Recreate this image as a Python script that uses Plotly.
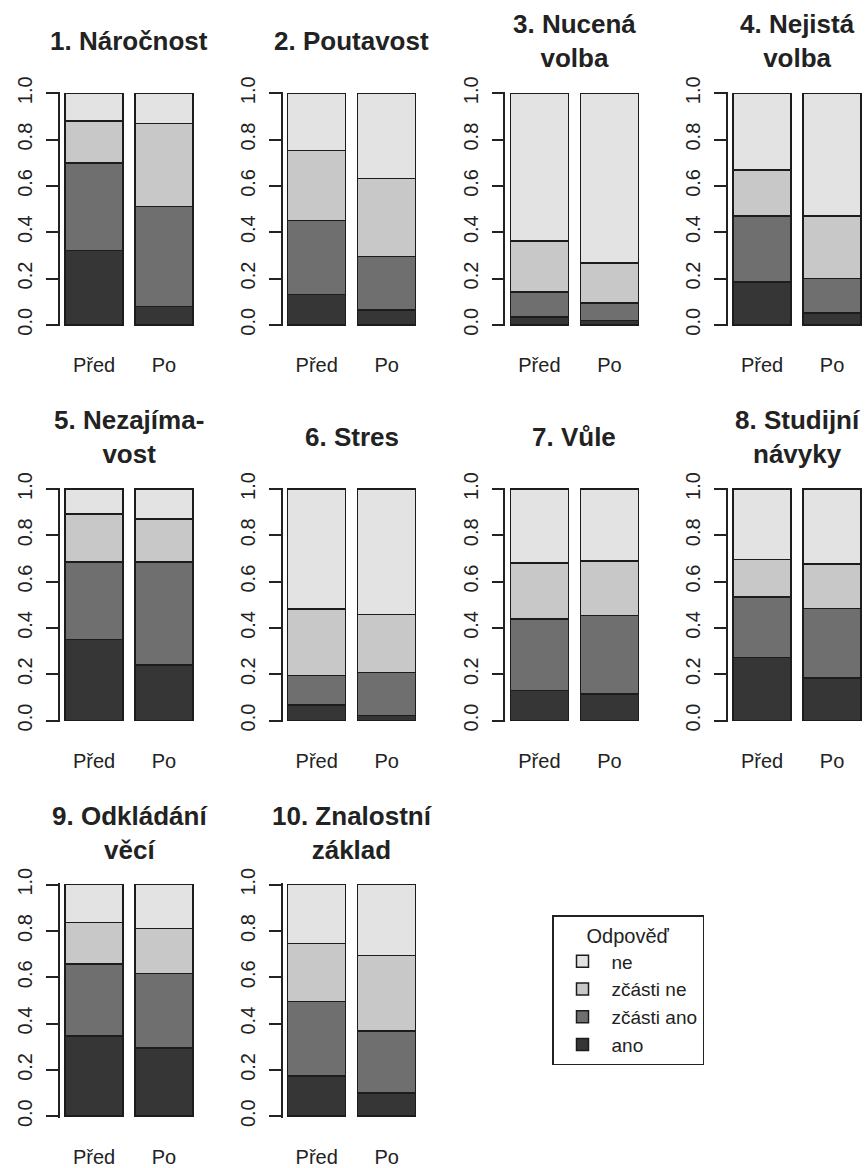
import plotly.graph_objects as go

# Survey items (panel titles; "<br>" marks the line break)
titles = [
    "1. Náročnost", "2. Poutavost", "3. Nucená<br>volba", "4. Nejistá<br>volba",
    "5. Nezajíma-<br>vost", "6. Stres", "7. Vůle", "8. Studijní<br>návyky",
    "9. Odkládání<br>věcí", "10. Znalostní<br>základ",
]
times = ["Před", "Po"]
responses = ["ano", "zčásti ano", "zčásti ne", "ne"]

# Proportions of answers per item, [Před, Po]
ano = [[0.32, 0.08], [0.13, 0.065], [0.033, 0.019], [0.185, 0.051], [0.35, 0.24],
       [0.068, 0.021], [0.13, 0.114], [0.272, 0.183], [0.347, 0.294], [0.173, 0.101]]
zcasti_ano = [[0.38, 0.43], [0.32, 0.231], [0.108, 0.076], [0.285, 0.148], [0.335, 0.445],
              [0.126, 0.186], [0.308, 0.34], [0.261, 0.301], [0.31, 0.323], [0.322, 0.268]]
zcasti_ne = [[0.18, 0.36], [0.303, 0.336], [0.221, 0.173], [0.198, 0.271], [0.207, 0.186],
             [0.287, 0.251], [0.242, 0.236], [0.163, 0.193], [0.179, 0.194], [0.252, 0.325]]
ne = [[0.12, 0.13], [0.247, 0.368], [0.638, 0.732], [0.332, 0.530], [0.108, 0.129],
      [0.519, 0.542], [0.32, 0.31], [0.304, 0.323], [0.164, 0.189], [0.253, 0.306]]

series = [ano, zcasti_ano, zcasti_ne, ne]
colors = ["#363636", "#6f6f6f", "#c8c8c8", "#e3e3e3"]

W, H = 868, 1168
FONT = "Liberation Sans, Arial, Helvetica, sans-serif"
INK = "#222222"

col_x0 = 60.0      # pixel x of the first y-axis line
col_step = 222.7   # horizontal distance between panels
plot_w = 138.0     # plot area width
row_top = 93.3     # pixel y of value 1.0 in the first row
row_step = 395.7
unit = 231.5       # pixels per 1.0 on the value axis
pad = 0.006        # value-axis padding so bar outlines are not clipped

fig = go.Figure()
layout = dict(
    template="none",
    width=W, height=H, margin=dict(l=0, r=0, t=0, b=0, autoexpand=False),
    paper_bgcolor="white", plot_bgcolor="white",
    barmode="stack", bargap=0.171,
    font=dict(family=FONT, color=INK),
    showlegend=True,
    annotations=[],
)

for i, title in enumerate(titles):
    r, c = divmod(i, 4)
    n = "" if i == 0 else str(i + 1)
    x0 = col_x0 + col_step * c
    top_px = row_top + row_step * r - pad * unit
    bot_px = row_top + row_step * r + (1 + pad) * unit

    for k, name in enumerate(responses):
        fig.add_trace(go.Bar(
            x=times, y=series[k][i], name=name,
            marker=dict(color=colors[k], line=dict(color="#1c1c1c", width=1.5)),
            xaxis="x" + n, yaxis="y" + n,
            showlegend=(i == 0),
            hoverinfo="skip",
        ))

    layout["xaxis" + n] = dict(
        domain=[x0 / W, (x0 + plot_w) / W], anchor="y" + n, automargin=False,
        type="category", categoryorder="array", categoryarray=times,
        range=[-0.486, 1.486], showline=False, showgrid=False, zeroline=False,
        ticks="", ticklabelstandoff=25,
        tickfont=dict(size=20, color=INK, family=FONT),
    )
    layout["yaxis" + n] = dict(
        domain=[1 - bot_px / H, 1 - top_px / H], anchor="x" + n, automargin=False,
        range=[-pad, 1 + pad], showgrid=False, zeroline=False,
        showline=True, linecolor=INK, linewidth=1.6,
        ticks="outside", ticklen=12, tickwidth=1.6, tickcolor=INK,
        tickvals=[0, 0.2, 0.4, 0.6, 0.8, 1.0], tickformat=".1f",
        tickangle=-90, ticklabelstandoff=6,
        tickfont=dict(size=20, color=INK, family=FONT),
    )
    layout["annotations"].append(dict(
        text="<b>" + title + "</b>", xref="paper", yref="paper",
        x=(x0 + plot_w / 2) / W, y=1 - (row_top + row_step * r - 52) / H,
        xanchor="center", yanchor="middle", showarrow=False,
        font=dict(size=26, color=INK, family=FONT),
    ))

layout["legend"] = dict(
    x=552 / W, y=1 - 915 / H, xanchor="left", yanchor="top",
    traceorder="reversed", itemwidth=48,
    bgcolor="white", bordercolor=INK, borderwidth=1.5,
    font=dict(size=19, color=INK, family=FONT),
    title=dict(text="Odpověď", side="top center", font=dict(size=20, color=INK, family=FONT)),
)

fig.update_layout(**layout)
fig.write_html("out.html")
